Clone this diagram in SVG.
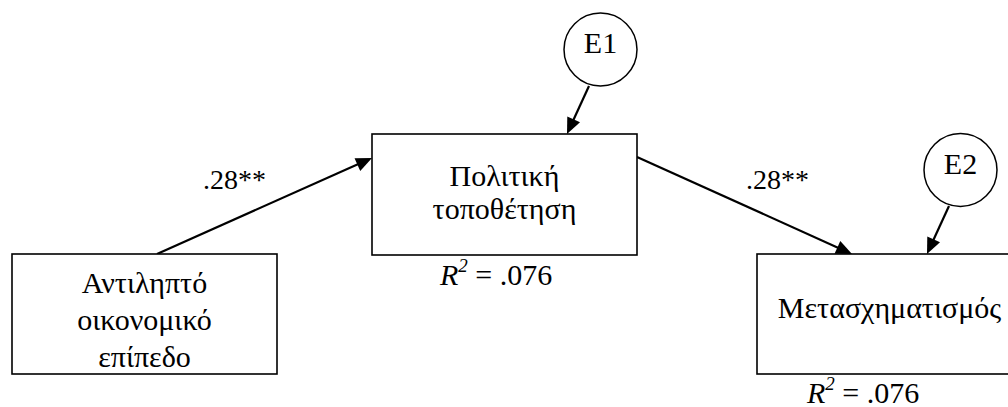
<svg xmlns="http://www.w3.org/2000/svg" xmlns:xlink="http://www.w3.org/1999/xlink" width="1008" height="407" viewBox="0 0 1008 407" font-family="Liberation Serif, Times New Roman, serif">
<style>
.box{fill:#fff;stroke:#000;stroke-width:1.6}
.circ{fill:#fff;stroke:#000;stroke-width:1.5}
.edge{stroke:#000;stroke-width:2.2;fill:none}
.head{fill:#000}
</style>
<defs>
<path id="hd" class="head" d="M0,0 L-16,-7 L-16,7 z"/>
</defs>
<rect width="1008" height="407" fill="#fff"/>
<g id="connectors">
<line class="edge" x1="157" y1="254" x2="364" y2="161.5"/>
<use xlink:href="#hd" href="#hd" transform="translate(372,158) rotate(-24.06)"/>
<line class="edge" x1="637" y1="157" x2="844" y2="250.4"/>
<use xlink:href="#hd" href="#hd" transform="translate(852,254) rotate(24.28)"/>
<line class="edge" x1="589" y1="86" x2="570.3" y2="126.7"/>
<use xlink:href="#hd" href="#hd" transform="translate(567,134) rotate(114.6)"/>
<line class="edge" x1="949" y1="206" x2="930.3" y2="246.7"/>
<use xlink:href="#hd" href="#hd" transform="translate(927,254) rotate(114.6)"/>
<text font-family="Liberation Serif, Times New Roman, serif" font-size="28" x="203" y="189">.28**</text>
<text font-family="Liberation Serif, Times New Roman, serif" font-size="28" x="746" y="189">.28**</text>
</g>
<g id="node-antilipto">
<rect class="box" x="12" y="254" width="265" height="120"/>
<text font-family="Liberation Serif, Times New Roman, serif" font-size="30" text-anchor="middle" x="144.5" y="293">Αντιληπτό</text>
<text font-family="Liberation Serif, Times New Roman, serif" font-size="30" text-anchor="middle" x="144.5" y="330">οικονομικό</text>
<text font-family="Liberation Serif, Times New Roman, serif" font-size="30" text-anchor="middle" x="144.5" y="367">επίπεδο</text>
</g>
<g id="node-politiki">
<rect class="box" x="372" y="134" width="265" height="121"/>
<text font-family="Liberation Serif, Times New Roman, serif" font-size="30" text-anchor="middle" x="504.5" y="186">Πολιτική</text>
<text font-family="Liberation Serif, Times New Roman, serif" font-size="30" text-anchor="middle" x="504.5" y="219">τοποθέτηση</text>
<text font-family="Liberation Serif, Times New Roman, serif" font-size="30" x="440" y="285"><tspan font-style="italic">R</tspan><tspan font-style="italic" font-size="19" dy="-13">2</tspan><tspan dy="13"> = .076</tspan></text>
</g>
<g id="node-metasx">
<rect class="box" x="757" y="254" width="265" height="120"/>
<text font-family="Liberation Serif, Times New Roman, serif" font-size="30" text-anchor="middle" x="889.5" y="318">Μετασχηματισμός</text>
<text font-family="Liberation Serif, Times New Roman, serif" font-size="30" x="807" y="403"><tspan font-style="italic">R</tspan><tspan font-style="italic" font-size="19" dy="-13">2</tspan><tspan dy="13"> = .076</tspan></text>
</g>
<g id="node-e1">
<circle class="circ" cx="600.5" cy="49.5" r="36.5"/>
<text font-family="Liberation Serif, Times New Roman, serif" font-size="30" text-anchor="middle" x="600.5" y="53">E1</text>
</g>
<g id="node-e2">
<circle class="circ" cx="960.5" cy="170" r="36.5"/>
<text font-family="Liberation Serif, Times New Roman, serif" font-size="30" text-anchor="middle" x="960.5" y="174">E2</text>
</g>
</svg>
